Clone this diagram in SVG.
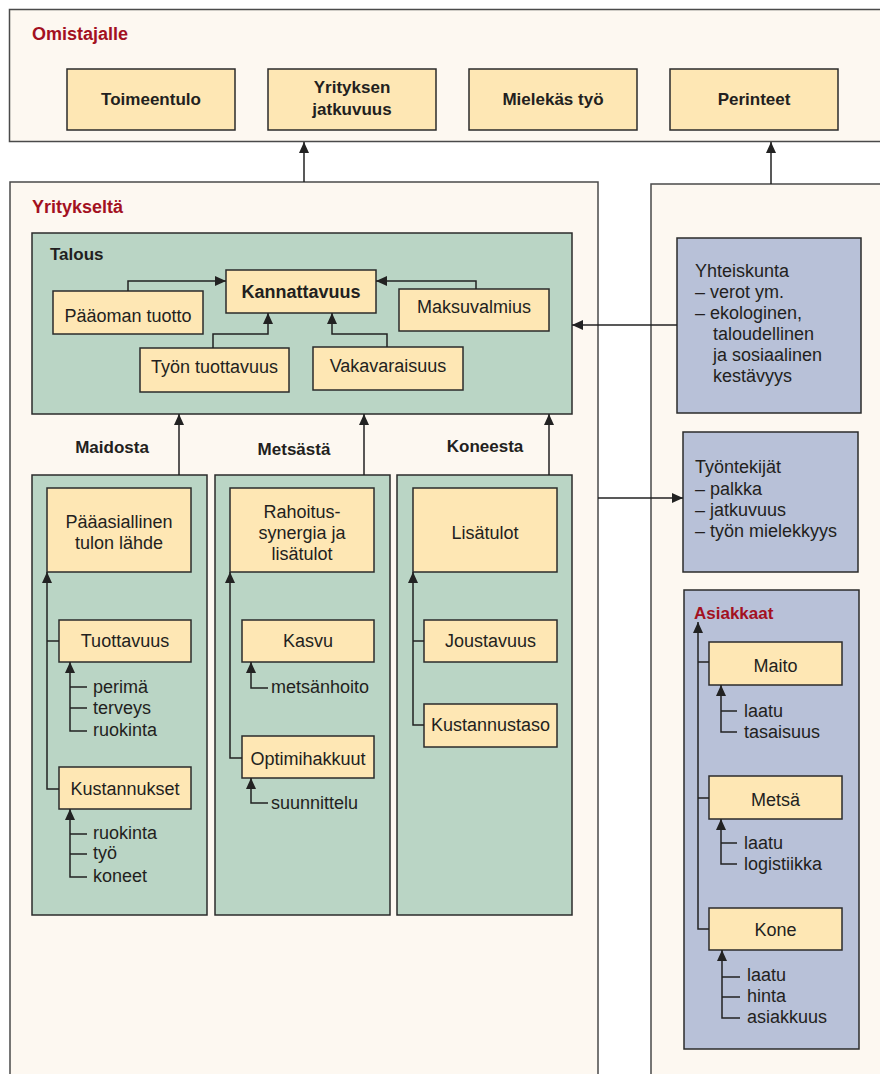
<svg xmlns="http://www.w3.org/2000/svg" width="880" height="1074" viewBox="0 0 880 1074">
<defs>
<marker id="ah" markerUnits="userSpaceOnUse" markerWidth="11" markerHeight="12" refX="11" refY="5" orient="auto">
<path d="M0,0 L11,5 L0,10 z" fill="#222"/>
</marker>
<style>
text{font-family:"Liberation Sans",Arial,sans-serif;fill:#231f20;}
.outer{fill:#fdf8f1;stroke:#4a4a4a;stroke-width:1.5;}
.node{fill:#fee7b4;stroke:#2b2b2b;stroke-width:1.5;}
.green{fill:#bad5c5;stroke:#2b2b2b;stroke-width:1.5;}
.blue{fill:#b8c1d8;stroke:#2b2b2b;stroke-width:1.5;}
.t{font-size:18px;}
.tc{font-size:18px;text-anchor:middle;}
.b{font-size:17px;font-weight:bold;text-anchor:middle;}
.bl{font-size:17px;font-weight:bold;}
.red{font-size:18px;font-weight:bold;fill:#a3111f;}
.c{fill:none;stroke:#222;stroke-width:1.5;}
.a{fill:none;stroke:#222;stroke-width:1.5;marker-end:url(#ah);}
</style>
</defs>
<rect width="880" height="1074" fill="#ffffff"/>

<g id="omistajalle">
<rect class="outer" x="9.5" y="9.5" width="880" height="132"/>
<text class="red" x="32" y="40">Omistajalle</text>
</g>
<g id="toimeentulo"><rect class="node" x="67" y="69" width="168" height="61"/><text class="b" x="151" y="105">Toimeentulo</text></g>
<g id="jatkuvuus"><rect class="node" x="268" y="69" width="168" height="61"/><text class="b" x="352" y="93">Yrityksen</text><text class="b" x="352" y="115">jatkuvuus</text></g>
<g id="mielekas"><rect class="node" x="469" y="69" width="168" height="61"/><text class="b" x="553" y="105">Mielekäs työ</text></g>
<g id="perinteet"><rect class="node" x="670" y="69" width="168" height="61"/><text class="b" x="754" y="105">Perinteet</text></g>

<g id="yritykselta">
<rect class="outer" x="10" y="182" width="588" height="900"/>
<text class="red" x="32" y="213">Yritykseltä</text>
</g>
<g id="oikea">
<rect class="outer" x="651" y="184" width="240" height="900"/>
</g>

<g id="talous">
<rect class="green" x="32" y="233" width="540" height="181"/>
<text class="bl" x="50" y="260">Talous</text>
</g>
<g id="kannattavuus"><rect class="node" x="226" y="270" width="150" height="43"/><text class="b" x="301" y="298" style="font-size:18px">Kannattavuus</text></g>
<g id="paaoman"><rect class="node" x="53" y="291" width="150" height="43"/><text class="tc" x="128" y="322">Pääoman tuotto</text></g>
<g id="maksuvalmius"><rect class="node" x="399" y="289" width="150" height="42"/><text class="tc" x="474" y="313">Maksuvalmius</text></g>
<g id="tyon"><rect class="node" x="140" y="348" width="149" height="44"/><text class="tc" x="214.5" y="373">Työn tuottavuus</text></g>
<g id="vakavaraisuus"><rect class="node" x="313" y="347" width="150" height="43"/><text class="tc" x="388" y="372">Vakavaraisuus</text></g>

<g id="otsikot">
<text class="b" x="112" y="453">Maidosta</text>
<text class="b" x="294" y="455">Metsästä</text>
<text class="b" x="485" y="452">Koneesta</text>
</g>

<g id="maidosta">
<rect class="green" x="32" y="475" width="175" height="440"/>
</g>
<g id="paaasiallinen"><rect class="node" x="47" y="488" width="144" height="84"/><text class="tc" x="119" y="528">Pääasiallinen</text><text class="tc" x="119" y="549">tulon lähde</text></g>
<g id="tuottavuus"><rect class="node" x="59" y="620" width="132" height="42"/><text class="tc" x="125" y="647">Tuottavuus</text></g>
<g id="tuottavuus-tekijat"><text class="t" x="93" y="693">perimä</text><text class="t" x="93" y="714">terveys</text><text class="t" x="93" y="736">ruokinta</text></g>
<g id="kustannukset"><rect class="node" x="59" y="767" width="132" height="42"/><text class="tc" x="125" y="795">Kustannukset</text></g>
<g id="kustannus-tekijat"><text class="t" x="93" y="839">ruokinta</text><text class="t" x="93" y="859">työ</text><text class="t" x="93" y="882">koneet</text></g>

<g id="metsasta">
<rect class="green" x="215" y="475" width="175" height="440"/>
</g>
<g id="rahoitus"><rect class="node" x="230" y="488" width="144" height="84"/><text class="tc" x="302" y="518">Rahoitus-</text><text class="tc" x="302" y="539">synergia ja</text><text class="tc" x="302" y="560">lisätulot</text></g>
<g id="kasvu"><rect class="node" x="242" y="620" width="132" height="42"/><text class="tc" x="308" y="647">Kasvu</text></g>
<g id="metsanhoito"><text class="t" x="271" y="693">metsänhoito</text></g>
<g id="optimihakkuut"><rect class="node" x="242" y="736" width="132" height="42"/><text class="tc" x="308" y="765">Optimihakkuut</text></g>
<g id="suunnittelu"><text class="t" x="271" y="809">suunnittelu</text></g>

<g id="koneesta">
<rect class="green" x="397" y="475" width="175" height="440"/>
</g>
<g id="lisatulot"><rect class="node" x="413" y="488" width="144" height="84"/><text class="tc" x="485" y="539">Lisätulot</text></g>
<g id="joustavuus"><rect class="node" x="424" y="620" width="133" height="42"/><text class="tc" x="490.5" y="647">Joustavuus</text></g>
<g id="kustannustaso"><rect class="node" x="424" y="704" width="133" height="43"/><text class="tc" x="490.5" y="731">Kustannustaso</text></g>

<g id="yhteiskunta">
<rect class="blue" x="677" y="238" width="184" height="175"/>
<text class="t" x="695" y="277">Yhteiskunta</text>
<text class="t" x="695" y="298">– verot ym.</text>
<text class="t" x="695" y="319">– ekologinen,</text>
<text class="t" x="713" y="340">taloudellinen</text>
<text class="t" x="713" y="361">ja sosiaalinen</text>
<text class="t" x="713" y="382">kestävyys</text>
</g>
<g id="tyontekijat">
<rect class="blue" x="683" y="432" width="175" height="140"/>
<text class="t" x="695" y="473">Työntekijät</text>
<text class="t" x="695" y="495">– palkka</text>
<text class="t" x="695" y="516">– jatkuvuus</text>
<text class="t" x="695" y="537">– työn mielekkyys</text>
</g>
<g id="asiakkaat">
<rect class="blue" x="684" y="590" width="175" height="459"/>
<text class="red" x="694" y="619" style="font-size:17px">Asiakkaat</text>
</g>
<g id="maito"><rect class="node" x="709" y="642" width="133" height="43"/><text class="tc" x="775.5" y="672">Maito</text></g>
<g id="maito-tekijat"><text class="t" x="744" y="717">laatu</text><text class="t" x="744" y="738">tasaisuus</text></g>
<g id="metsa"><rect class="node" x="709" y="776" width="133" height="43"/><text class="tc" x="775.5" y="806">Metsä</text></g>
<g id="metsa-tekijat"><text class="t" x="744" y="849">laatu</text><text class="t" x="744" y="870">logistiikka</text></g>
<g id="kone"><rect class="node" x="709" y="908" width="133" height="42"/><text class="tc" x="775.5" y="936">Kone</text></g>
<g id="kone-tekijat"><text class="t" x="747" y="981">laatu</text><text class="t" x="747" y="1002">hinta</text><text class="t" x="747" y="1023">asiakkuus</text></g>

<g id="connectors">
<path class="a" d="M304,182 V142"/>
<path class="a" d="M771,184 V142"/>
<path class="a" d="M128,291 V281 H226"/>
<path class="a" d="M476,289 V281 H376"/>
<path class="a" d="M213,348 V334 H268 V313"/>
<path class="a" d="M387,347 V334 H332 V313"/>
<path class="a" d="M677,325 H572"/>
<path class="a" d="M598,498 H683"/>
<path class="a" d="M179,475 V414"/>
<path class="a" d="M364,475 V414"/>
<path class="a" d="M549,475 V414"/>

<path class="a" d="M59,789 H47 V572"/>
<path class="c" d="M47,641 H59"/>
<path class="a" d="M87,731 H70 V662"/>
<path class="c" d="M70,687 H87 M70,708 H87"/>
<path class="a" d="M87,877 H70 V809"/>
<path class="c" d="M70,834 H87 M70,854 H87"/>

<path class="a" d="M242,758 H230 V572"/>
<path class="a" d="M268,688 H251 V662"/>
<path class="a" d="M268,803 H251 V778"/>

<path class="a" d="M424,725 H413 V572"/>
<path class="c" d="M413,641 H424"/>

<path class="a" d="M709,929 H698 V622"/>
<path class="c" d="M698,662 H709 M698,798 H709"/>
<path class="a" d="M737,732 H721 V685"/>
<path class="c" d="M721,711 H737"/>
<path class="a" d="M737,864 H721 V819"/>
<path class="c" d="M721,843 H737"/>
<path class="a" d="M740,1018 H722 V950"/>
<path class="c" d="M722,977 H740 M722,997 H740"/>
</g>
</svg>
